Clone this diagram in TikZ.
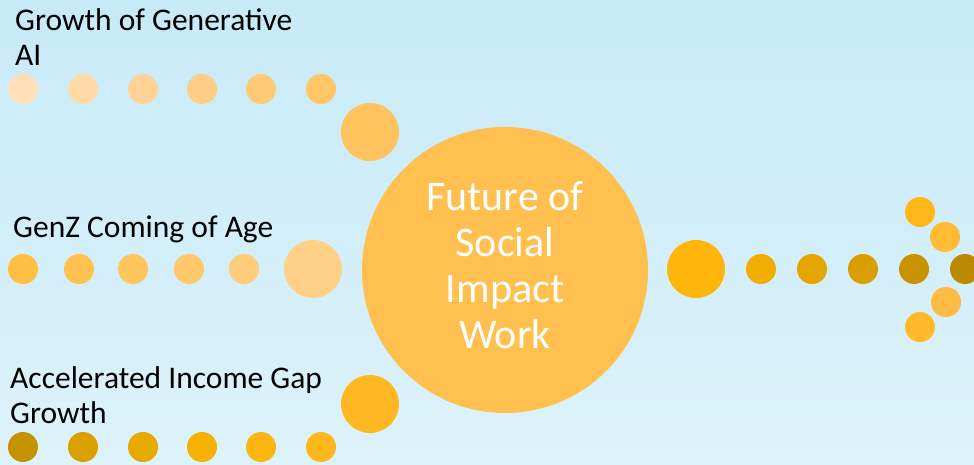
\documentclass[tikz,border=0pt]{standalone}
\usepackage{fontspec}
\setmainfont{Carlito}
\begin{document}
\begin{tikzpicture}[x=1pt,y=-1pt,
  dot/.style={circle,inner sep=0pt,minimum size=30pt,draw=none},
  bigdot/.style={circle,inner sep=0pt,minimum size=58pt,draw=none},
  lab/.style={anchor=base west,inner sep=0pt,font=\fontsize{31.5}{35}\selectfont,text=black,align=left}]
\definecolor{bgA}{HTML}{C2E8F7}
\definecolor{bgB}{HTML}{DDF3FA}
\definecolor{cc}{HTML}{FFC04F}
\shade[left color=bgA,right color=bgB,shading angle=0] (0,0) rectangle (974,465);
\shade[top color=bgA!60!bgB,bottom color=bgB,opacity=0.5] (0,0) rectangle (974,465);
\useasboundingbox (0,0) rectangle (974,465);
% central circle
\node[circle,inner sep=0pt,minimum size=286pt,fill=cc] (c) at (505,270) {};
\node[text=white,align=center,anchor=base,inner sep=0pt,font=\fontsize{42}{46}\selectfont] (ct) at (505,348) {Future of\\Social\\Impact\\Work};
% top row
\definecolor{t1}{HTML}{FFDFB6}\definecolor{t2}{HTML}{FFD9A6}\definecolor{t3}{HTML}{FFD396}
\definecolor{t4}{HTML}{FFCE86}\definecolor{t5}{HTML}{FFCA76}\definecolor{t6}{HTML}{FFC668}
\definecolor{t7}{HTML}{FFC45E}
\node[dot,fill=t1] (a1) at (23,89) {};
\node[dot,fill=t2] (a2) at (83,89) {};
\node[dot,fill=t3] (a3) at (143,89) {};
\node[dot,fill=t4] (a4) at (202,89) {};
\node[dot,fill=t5] (a5) at (261,89) {};
\node[dot,fill=t6] (a6) at (321,89) {};
\node[bigdot,fill=t7] (a7) at (370,132) {};
% middle row
\definecolor{m1}{HTML}{FFBF45}\definecolor{m2}{HTML}{FFC251}\definecolor{m3}{HTML}{FFC55D}
\definecolor{m4}{HTML}{FFC96B}\definecolor{m5}{HTML}{FFCC7A}\definecolor{m6}{HTML}{FFD088}
\node[dot,fill=m1] (b1) at (23,269) {};
\node[dot,fill=m2] (b2) at (79,269) {};
\node[dot,fill=m3] (b3) at (133,269) {};
\node[dot,fill=m4] (b4) at (189,269) {};
\node[dot,fill=m5] (b5) at (244,269) {};
\node[bigdot,fill=m6] (b6) at (313,269) {};
% bottom row
\definecolor{u1}{HTML}{C69300}\definecolor{u2}{HTML}{D9A000}\definecolor{u3}{HTML}{E8A900}
\definecolor{u4}{HTML}{F5B000}\definecolor{u5}{HTML}{FDB512}\definecolor{u6}{HTML}{FFB81C}
\definecolor{u7}{HTML}{FFB822}
\node[dot,fill=u1] (d1) at (23,447) {};
\node[dot,fill=u2] (d2) at (83,447) {};
\node[dot,fill=u3] (d3) at (143,447) {};
\node[dot,fill=u4] (d4) at (202,447) {};
\node[dot,fill=u5] (d5) at (261,447) {};
\node[dot,fill=u6] (d6) at (321,447) {};
\node[bigdot,fill=u7] (d7) at (370,404) {};
% right arrow
\definecolor{r0}{HTML}{FFB50A}\definecolor{r1}{HTML}{F2AE00}\definecolor{r2}{HTML}{E5A500}
\definecolor{r3}{HTML}{D99E00}\definecolor{r4}{HTML}{C99300}\definecolor{r5}{HTML}{BB8A00}
\definecolor{h1}{HTML}{FFB618}\definecolor{h2}{HTML}{FFBB33}\definecolor{h3}{HTML}{FFBB44}\definecolor{h4}{HTML}{FFB92A}
\node[bigdot,fill=r0] (e0) at (696,269) {};
\node[dot,fill=r1] (e1) at (761,269) {};
\node[dot,fill=r2] (e2) at (812,269) {};
\node[dot,fill=r3] (e3) at (863,269) {};
\node[dot,fill=r4] (e4) at (914,269) {};
\node[dot,fill=r5] (e5) at (965,269) {};
\node[dot,fill=h1] (f1) at (920,212) {};
\node[dot,fill=h2] (f2) at (945,237) {};
\node[dot,fill=h3] (f3) at (946,302) {};
\node[dot,fill=h4] (f4) at (920,327) {};
% labels
\node[lab] (l1) at (15,66) {Growth of Generative\\AI};
\node[lab] (l2) at (13,237) {GenZ Coming of Age};
\node[lab] (l3) at (10,423) {Accelerated Income Gap\\Growth};
\end{tikzpicture}
\end{document}
